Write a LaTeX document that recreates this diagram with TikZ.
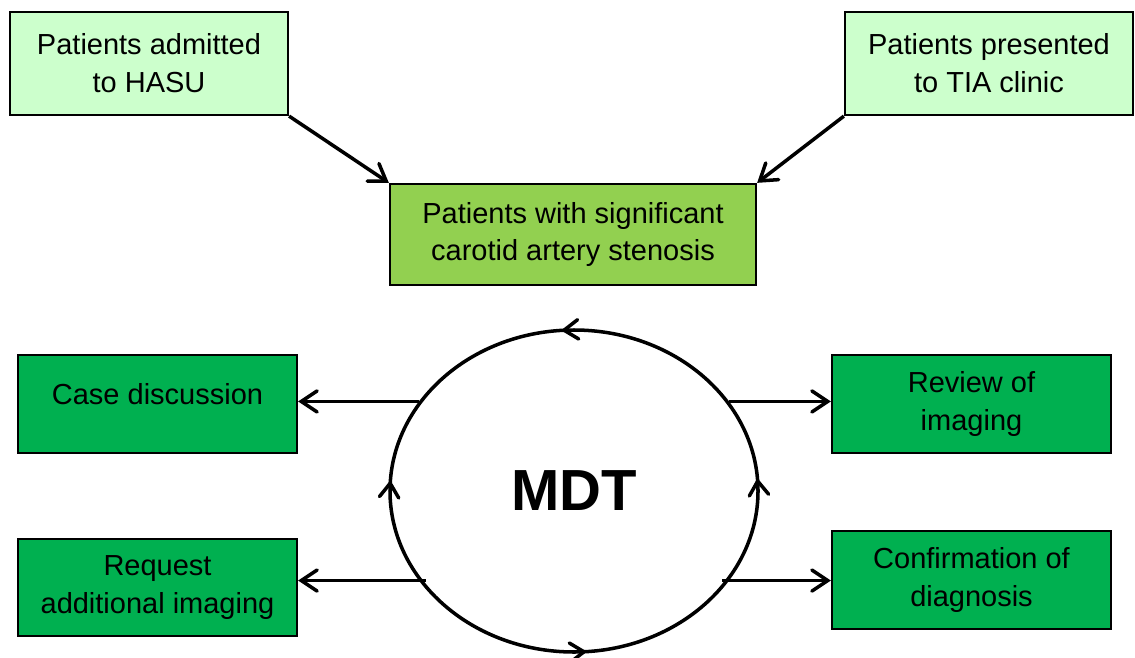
\documentclass[tikz,border=0pt]{standalone}
\usepackage{fontspec}
\setmainfont{Liberation Sans}
\usepackage{xcolor}
\usepackage{tikz}
\usetikzlibrary{positioning,shapes.geometric,arrows.meta,calc,decorations.markings}
\definecolor{paleGreen}{HTML}{CCFFCC}
\definecolor{midGreen}{HTML}{92D050}
\definecolor{deepGreen}{HTML}{00B050}

\begin{document}
\begin{tikzpicture}[
    font=\fontsize{16.5}{21.5}\selectfont,
    entry/.style={
        draw=black,
        line width=1.3pt,
        minimum height=2.06cm,
        align=center,
        fill=paleGreen
    },
    target/.style={
        draw=black,
        line width=1.3pt,
        minimum width=7.32cm,
        minimum height=2.02cm,
        align=center,
        fill=midGreen
    },
    task/.style={
        draw=black,
        line width=1.3pt,
        minimum width=5.58cm,
        minimum height=1.96cm,
        align=center,
        fill=deepGreen
    },
    arr/.style={-{Straight Barb[length=9pt,width=12pt,line cap=round]}, line width=2pt},
    ringtip/.tip={Straight Barb[length=8pt,width=11pt,line cap=round]}
]
\useasboundingbox (0,0) rectangle (22.7,-13.14);

% top row
\node[entry, minimum width=5.56cm] (admit) at (2.98,-1.27)
{Patients admitted\\to HASU};

\node[entry, minimum width=5.76cm] (tia) at (19.78,-1.27)
{Patients presented\\to TIA clinic};

\node[target] (sten) at (11.46,-4.69)
{Patients with significant\\carotid artery stenosis};

\draw[arr] (admit.south east) -- (sten.north west);
\draw[arr] (tia.south west) -- (sten.north east);

% meeting
\node[ellipse, draw=black, line width=2pt, inner sep=0pt,
      minimum width=7.36cm, minimum height=6.44cm,
      font=\fontsize{33}{38}\selectfont\bfseries,
      postaction={decorate},
      decoration={markings,
        mark=at position 0.012 with {\arrow{ringtip}},
        mark=at position 0.262 with {\arrow{ringtip}},
        mark=at position 0.49 with {\arrowreversed{ringtip}},
        mark=at position 0.762 with {\arrow{ringtip}}}]
  (mdt) at (11.48,-9.82) {MDT};

% side boxes
\node[task] (case) at (3.15,-8.08) {\raisebox{0.2cm}[\height][\depth]{Case discussion}};
\node[task] (review) at (19.43,-8.08) {Review of\\imaging};
\node[task, minimum height=1.94cm] (request) at (3.15,-11.75)
{Request\\additional imaging};
\node[task] (confirm) at (19.43,-11.6) {Confirmation of\\diagnosis};

\draw[arr] (mdt.150) -- (mdt.150 -| case.east);
\draw[arr] (mdt.30) -- (mdt.30 -| review.west);
\draw[arr] ([xshift=0.14cm]mdt.210) -- (mdt.210 -| request.east);
\draw[arr] ([xshift=-0.14cm]mdt.330) -- (mdt.330 -| confirm.west);

\end{tikzpicture}
\end{document}
